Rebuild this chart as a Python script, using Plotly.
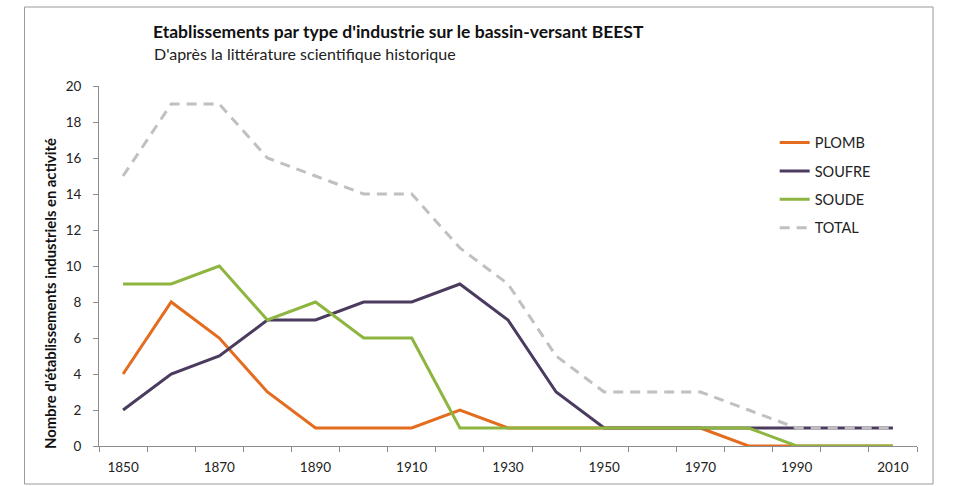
import plotly.graph_objects as go

years = [1850, 1860, 1870, 1880, 1890, 1900, 1910, 1920, 1930, 1940,
         1950, 1960, 1970, 1980, 1990, 2000, 2010]
plomb = [4, 8, 6, 3, 1, 1, 1, 2, 1, 1, 1, 1, 1, 0, 0, 0, 0]
soufre = [2, 4, 5, 7, 7, 8, 8, 9, 7, 3, 1, 1, 1, 1, 1, 1, 1]
soude = [9, 9, 10, 7, 8, 6, 6, 1, 1, 1, 1, 1, 1, 1, 0, 0, 0]
total = [15, 19, 19, 16, 15, 14, 14, 11, 9, 5, 3, 3, 3, 2, 1, 1, 1]

label_years = [1850, 1870, 1890, 1910, 1930, 1950, 1970, 1990, 2010]
boundaries = [y - 5 for y in years] + [years[-1] + 5]

series = [
    ("PLOMB", plomb, "#E46C1F", "solid"),
    ("SOUFRE", soufre, "#4B3B5F", "solid"),
    ("SOUDE", soude, "#8DB53F", "solid"),
    ("TOTAL", total, "#C0C0C0", "10px,7px"),
]

FONT = "Lato, 'Open Sans', sans-serif"

fig = go.Figure()
for name, vals, color, dash in series:
    fig.add_trace(go.Scatter(
        x=years, y=vals, name=name, mode="lines",
        line=dict(color=color, width=3, dash=dash),
        legendgroup=name,
    ))

fig.update_layout(
    width=955, height=486,
    margin=dict(l=99, r=38, t=86, b=40),
    paper_bgcolor="white", plot_bgcolor="white",
    font=dict(family=FONT, size=13, color="#222222"),
    showlegend=True,
    legend=dict(x=0.826, y=0.887, xanchor="left", yanchor="top",
                bgcolor="rgba(0,0,0,0)", font=dict(size=14.5, color="#222222"),
                tracegroupgap=6.5),
    xaxis=dict(range=[1845, 2015], tickmode="array", tickvals=label_years,
               ticktext=[str(v) for v in label_years], ticks="",
               ticklabelstandoff=9,
               showgrid=False, zeroline=False, showline=True,
               linecolor="#8C8C8C", linewidth=1,
               tickfont=dict(size=13.5),
               minor=dict(tickmode="array", tickvals=boundaries, ticks="outside",
                          ticklen=5, tickcolor="#8C8C8C", showgrid=False)),
    yaxis=dict(range=[0, 20], tickmode="array", tickvals=list(range(0, 21, 2)),
               ticks="outside", ticklen=5, tickcolor="#8C8C8C",
               ticklabelstandoff=9,
               showgrid=False, zeroline=False, showline=True,
               linecolor="#8C8C8C", linewidth=1, tickfont=dict(size=13.5)),
)

fig.add_annotation(
    text="<b>Etablissements par type d'industrie sur le bassin-versant BEEST</b>",
    xref="paper", yref="paper", x=(151 - 99) / 818, y=(446 - 31) / 360,
    xanchor="left", yanchor="middle", showarrow=False,
    font=dict(size=17.5, color="#111111"),
)
fig.add_annotation(
    text="D'après la littérature scientifique historique",
    xref="paper", yref="paper", x=(152 - 99) / 818, y=(446 - 53) / 360,
    xanchor="left", yanchor="middle", showarrow=False,
    font=dict(size=16, color="#222222"),
)
fig.add_annotation(
    text="<b>Nombre d'établissements industriels en activité</b>",
    xref="paper", yref="paper", x=(50 - 99) / 818, y=(446 - 294) / 360,
    xanchor="center", yanchor="middle", textangle=-90, showarrow=False,
    font=dict(size=14.8, color="#111111"),
)
fig.add_shape(
    type="rect", xref="paper", yref="paper",
    x0=(24.5 - 99) / 818, x1=(933 - 99) / 818,
    y0=(446 - 484) / 360, y1=(446 - 7) / 360,
    line=dict(color="#9A9A9A", width=1), fillcolor="rgba(0,0,0,0)", layer="below",
)

fig.write_html("out.html",
               config={"displayModeBar": False},
               post_script="document.body.style.margin='0';document.body.style.padding='0';")
